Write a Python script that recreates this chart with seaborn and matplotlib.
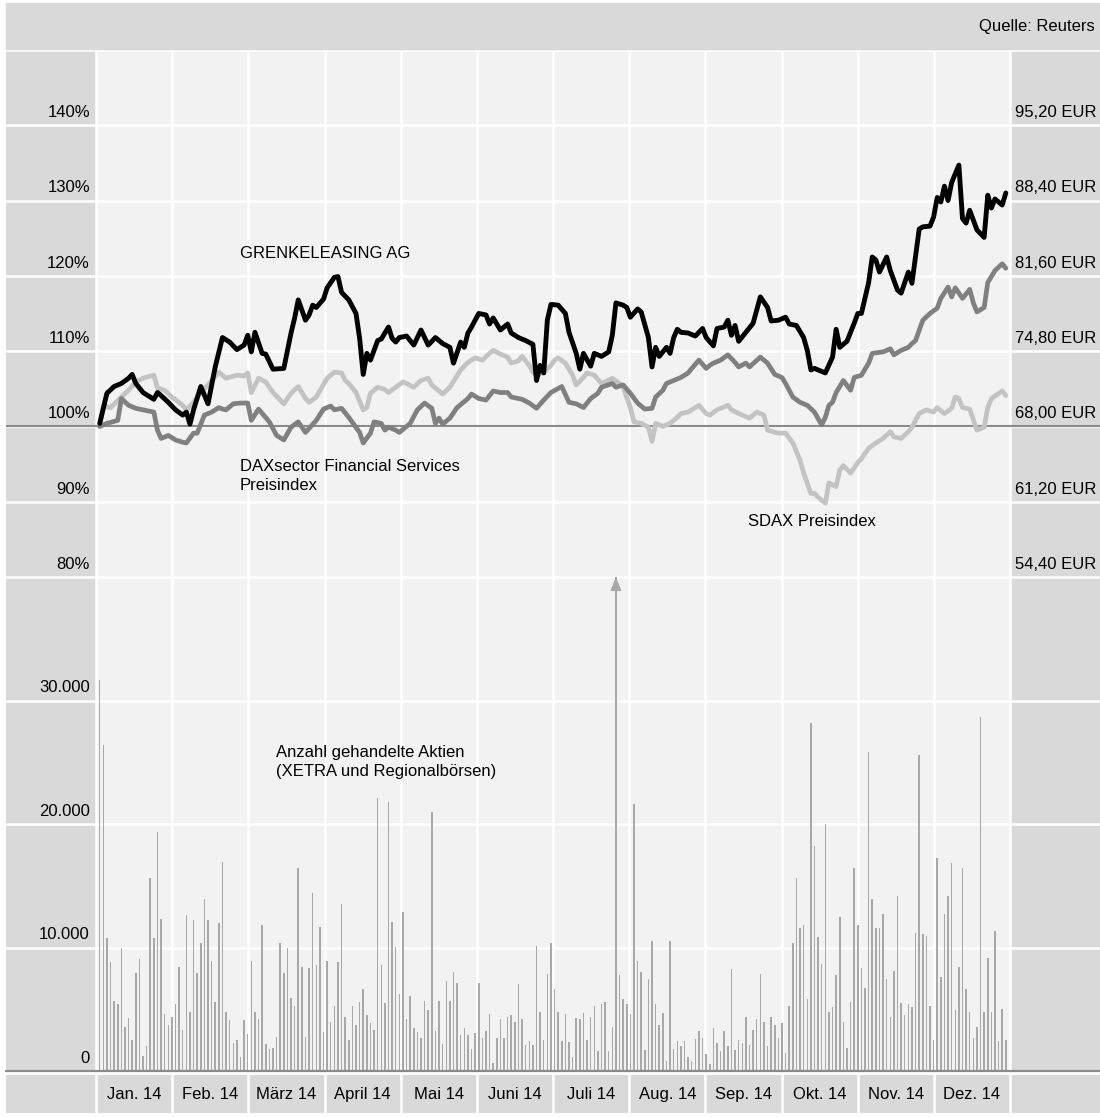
import numpy as np
import pandas as pd
import matplotlib
matplotlib.use("Agg")
import matplotlib.pyplot as plt
from matplotlib.patches import Rectangle
import seaborn as sns

sns.set_style("white")
plt.rcParams['font.family'] = ['Liberation Sans', 'DejaVu Sans']
plt.rcParams['font.size'] = 12
plt.rcParams['text.color'] = 'black'

# ---------------- data ----------------
months = ["Jan. 14", "Feb. 14", "März 14", "April 14", "Mai 14", "Juni 14",
          "Juli 14", "Aug. 14", "Sep. 14", "Okt. 14", "Nov. 14", "Dez. 14"]
pct_ticks = [80, 90, 100, 110, 120, 130, 140]
pct_labels = ["80%", "90%", "100%", "110%", "120%", "130%", "140%"]
eur_labels = ["54,40 EUR", "61,20 EUR", "68,00 EUR", "74,80 EUR",
              "81,60 EUR", "88,40 EUR", "95,20 EUR"]
vol_ticks = [0, 10000, 20000, 30000]
vol_labels = ["0", "10.000", "20.000", "30.000"]

vol_jan = [31700, 26400, 10760, 8800, 5700, 5400, 9950, 3600, 4300, 2500, 7950,
           9050, 1200, 2000, 15600, 10760, 19350, 12300, 4650, 3700, 4400]
vol_feb = [5400, 8400, 3300, 12600, 4750, 12200, 7950, 10360, 13950, 12200,
           8900, 5600, 11950, 16950, 4800, 4100, 2250, 2500, 1100, 4100]
vol_mar = [3000, 8900, 4800, 4200, 11800, 2200, 1800, 1850, 2750, 10360, 7950,
           9950, 5900, 5300, 16400, 8400, 2750, 8350, 14450, 8600, 11650]
vol_apr = [3150, 8900, 4000, 5250, 8800, 13500, 4400, 2550, 5300, 3750, 5600,
           6650, 4500, 3900, 3300, 22100, 8600, 5500, 21750, 12050, 10050, 6200]
vol_mai = [12900, 4250, 6100, 3500, 3150, 2700, 5700, 4900, 20950, 3200, 5700,
           2150, 7300, 5700, 8050, 7150, 2900, 3500, 2950, 1800, 3050]
vol_jun = [7150, 2650, 3200, 4650, 650, 2700, 4250, 2700, 4400, 4500, 4000,
           7050, 4250, 2100, 2400, 2100, 10100, 4800, 2550, 7850, 10400]
vol_jul = [6650, 4750, 2400, 4650, 2350, 1100, 4300, 4200, 4700, 2550, 4400,
           5300, 1600, 5400, 5600, 1600, 3600, 52000, 7800, 5850, 5400]
vol_aug = [4600, 21600, 8900, 8000, 1700, 7450, 10500, 5400, 3700, 4700, 800,
           10500, 1800, 2400, 2000, 2400, 1100, 850, 2600, 3200, 2700, 1400]
vol_sep = [550, 3500, 2300, 1600, 3200, 2000, 8250, 1700, 2500, 2300, 4400,
           2100, 3350, 4200, 7850, 4000, 2000, 4400, 3700, 2700, 3900]
vol_okt = [1450, 5250, 10350, 15600, 11550, 11800, 5850, 28200, 18250, 10850,
           8650, 20000, 4800, 5150, 7800, 12450, 4000, 1900, 5600, 16450, 11800]
vol_nov = [8350, 6750, 25800, 13900, 11550, 11550, 12750, 7450, 4350, 8100,
           14200, 5500, 4550, 5400, 5200, 11150, 25600, 11100, 10900, 5300, 2500]
vol_dez = [17250, 7650, 12750, 14150, 16850, 4900, 8400, 16450, 6600, 4800,
           2700, 3550, 28700, 4750, 9150, 4750, 11350, 2400, 5000, 2500]

grenke_day = [0, 2, 4, 6, 8, 9, 10, 12, 15, 16, 17, 19, 21, 23, 24, 25, 26, 28, 30, 32,
              34, 36, 38, 40, 41, 42, 43, 45, 46, 48, 51, 53, 54, 55, 57, 58, 59, 60, 62, 63,
              65, 66, 67, 69, 71, 72, 73, 74, 75, 77, 78, 80, 81, 82, 83, 85, 87, 89, 91, 93,
              95, 97, 98, 100, 101, 102, 103, 105, 107, 108, 109, 111, 113, 114, 116, 118, 120, 121, 122, 123,
              124, 125, 127, 129, 130, 132, 133, 134, 136, 137, 139, 141, 142, 143, 145, 146, 147, 149, 150, 152,
              153, 154, 155, 157, 158, 159, 160, 161, 163, 165, 167, 168, 170, 171, 173, 174, 175, 176, 177, 179,
              181, 183, 185, 186, 188, 190, 191, 193, 195, 196, 197, 198, 201, 203, 204, 205, 207, 209, 210, 211,
              213, 214, 215, 216, 218, 219, 221, 222, 224, 225, 227, 228, 230, 231, 232, 233, 234, 235, 236, 238,
              239, 240, 241, 243, 245, 246, 247, 248, 250, 251]
grenke_pct = [100.4, 104.4, 105.3, 105.7, 106.4, 106.9, 105.7, 104.5, 103.6, 104.5, 104.1, 103.2, 102.2, 101.5, 101.9, 100.3, 102.2, 105.3, 103.0, 107.9,
              111.8, 111.2, 110.2, 110.8, 112.1, 109.9, 112.5, 109.7, 109.6, 107.6, 107.7, 112.4, 114.4, 116.8, 114.1, 114.8, 116.1, 115.8, 116.9, 118.4,
              119.8, 119.9, 117.8, 116.8, 115.0, 111.7, 106.9, 109.7, 108.8, 111.4, 111.6, 113.2, 111.7, 111.2, 111.8, 112.0, 110.8, 112.8, 110.8, 111.8,
              111.0, 110.5, 108.4, 111.2, 110.5, 112.4, 113.2, 115.0, 114.8, 113.6, 114.4, 112.8, 113.6, 112.4, 111.8, 111.4, 110.9, 106.1, 108.1, 107.1,
              114.1, 116.2, 116.1, 115.0, 112.5, 109.7, 107.6, 109.7, 108.0, 109.7, 109.3, 109.9, 112.1, 116.4, 116.1, 115.8, 114.5, 115.6, 115.2, 111.8,
              107.9, 110.5, 109.3, 110.5, 109.7, 111.8, 112.9, 112.5, 112.4, 112.0, 113.0, 111.8, 110.7, 113.0, 113.2, 114.1, 112.1, 113.4, 111.3, 112.5,
              113.7, 117.2, 115.8, 114.0, 114.1, 114.5, 113.6, 113.4, 111.8, 110.1, 107.5, 107.7, 107.1, 109.2, 112.9, 110.5, 111.3, 113.7, 115.0, 115.0,
              119.1, 122.5, 122.1, 120.5, 122.5, 120.7, 118.1, 117.7, 120.5, 119.0, 126.2, 126.5, 126.6, 127.8, 130.4, 129.8, 131.9, 130.0, 132.4, 134.7,
              127.6, 127.0, 128.7, 126.1, 125.1, 130.7, 129.0, 130.2, 129.4, 131.0]

dax_day = [0, 2, 5, 6, 8, 10, 12, 15, 16, 17, 19, 21, 23, 24, 26, 27, 29, 31, 33, 34,
           35, 37, 39, 41, 42, 44, 47, 49, 51, 53, 55, 57, 60, 62, 64, 65, 67, 69, 72, 73,
           75, 76, 78, 79, 80, 82, 83, 86, 88, 90, 92, 93, 94, 95, 97, 99, 102, 103, 105, 107,
           109, 111, 113, 114, 117, 119, 121, 123, 125, 128, 130, 132, 134, 136, 138, 139, 142, 143, 145, 147,
           149, 151, 153, 154, 156, 157, 159, 161, 163, 164, 166, 168, 169, 170, 172, 174, 176, 177, 179, 180,
           183, 185, 187, 189, 190, 192, 194, 196, 198, 200, 201, 202, 203, 204, 206, 208, 209, 211, 213, 214,
           217, 219, 220, 222, 224, 225, 226, 228, 230, 232, 233, 235, 236, 237, 239, 241, 242, 243, 245, 246,
           248, 250, 251]
dax_pct = [100.0, 100.4, 100.8, 103.7, 102.8, 102.4, 102.2, 101.9, 99.5, 98.4, 98.8, 98.2, 97.9, 97.8, 99.1, 99.1, 101.5, 101.9, 102.5, 102.3,
           102.2, 103.0, 103.1, 103.1, 100.8, 102.3, 100.6, 98.8, 98.2, 99.9, 100.6, 99.2, 100.8, 102.3, 102.7, 102.2, 102.4, 101.2, 99.2, 97.8,
           99.1, 100.6, 100.4, 99.5, 99.9, 99.5, 99.2, 100.4, 102.2, 103.1, 102.4, 100.4, 101.1, 100.3, 101.1, 102.5, 103.7, 104.3, 103.7, 103.5,
           104.7, 104.5, 104.5, 103.9, 103.6, 103.1, 102.4, 103.5, 104.5, 105.3, 103.2, 103.0, 102.5, 103.7, 104.4, 105.2, 105.7, 105.2, 105.5, 104.4,
           103.1, 102.3, 102.4, 103.9, 104.8, 105.7, 106.1, 106.5, 107.1, 107.7, 108.8, 107.7, 108.1, 108.4, 108.8, 109.5, 108.5, 107.9, 108.4, 107.9,
           109.2, 108.4, 106.9, 106.5, 105.7, 103.9, 103.2, 102.8, 101.9, 100.2, 101.2, 102.8, 103.2, 104.5, 106.1, 104.8, 106.5, 106.8, 108.4, 109.7,
           109.9, 110.3, 109.5, 110.1, 110.5, 111.0, 111.4, 114.1, 115.0, 115.7, 117.0, 118.5, 117.2, 118.4, 117.0, 118.2, 116.4, 115.2, 115.8, 119.1,
           120.7, 121.6, 121.0]

sdax_day = [0, 1, 3, 6, 8, 10, 12, 15, 16, 18, 20, 23, 24, 26, 28, 30, 33, 35, 38, 40,
            41, 42, 44, 46, 48, 50, 51, 53, 55, 57, 58, 60, 63, 65, 67, 68, 69, 71, 73, 74,
            75, 77, 79, 80, 82, 84, 85, 87, 89, 91, 92, 95, 97, 100, 102, 104, 106, 108, 109, 111,
            113, 114, 116, 117, 119, 120, 121, 123, 125, 126, 127, 129, 131, 132, 134, 135, 137, 139, 140, 142,
            144, 145, 147, 148, 150, 152, 153, 154, 156, 158, 160, 161, 163, 164, 166, 168, 169, 171, 174, 175,
            178, 180, 182, 184, 185, 188, 190, 192, 194, 195, 197, 198, 199, 201, 202, 204, 205, 206, 208, 210,
            211, 213, 215, 217, 219, 220, 222, 224, 225, 227, 229, 231, 232, 234, 236, 237, 238, 239, 241, 243,
            245, 246, 247, 250, 251]
sdax_pct = [100.0, 102.7, 102.5, 103.9, 104.8, 105.9, 106.4, 106.8, 105.1, 104.8, 103.9, 102.8, 102.2, 103.2, 104.5, 105.5, 107.2, 106.4, 106.8, 106.7,
            107.1, 104.5, 106.4, 105.9, 104.5, 103.5, 103.0, 104.4, 105.3, 103.7, 103.2, 103.9, 106.4, 107.2, 107.1, 106.1, 105.7, 104.5, 102.2, 102.5,
            104.4, 105.2, 104.9, 104.5, 105.2, 105.9, 105.7, 105.2, 106.1, 106.4, 105.5, 104.3, 105.2, 107.5, 108.5, 109.1, 108.8, 109.7, 110.1, 109.6,
            109.2, 108.4, 108.7, 109.3, 108.1, 107.2, 106.8, 107.2, 108.1, 108.8, 109.1, 108.4, 106.8, 105.5, 106.5, 107.1, 106.8, 105.7, 105.9, 106.4,
            105.7, 105.2, 102.5, 100.6, 100.4, 99.9, 98.0, 100.4, 100.0, 100.4, 101.2, 101.7, 101.9, 102.2, 102.8, 101.7, 101.5, 102.2, 102.8, 102.2,
            101.5, 101.1, 101.9, 101.5, 99.5, 99.1, 99.1, 97.8, 95.5, 93.8, 91.1, 91.1, 90.6, 89.8, 92.5, 92.0, 94.2, 94.8, 93.8, 95.2,
            95.7, 97.1, 97.8, 98.4, 99.3, 98.6, 98.4, 99.3, 99.9, 101.7, 102.2, 101.9, 102.5, 101.7, 102.4, 103.9, 103.7, 102.5, 102.3, 99.5,
            99.9, 102.5, 103.7, 104.7, 104.1]

volume = (vol_jan + vol_feb + vol_mar + vol_apr + vol_mai + vol_jun +
          vol_jul + vol_aug + vol_sep + vol_okt + vol_nov + vol_dez)
vol_df = pd.DataFrame({"day": np.arange(len(volume)), "volume": volume})

# ---------------- layout ----------------
W, H = 1100, 1117
X0, DX = 99.7, 3.61              # pixel of day 0, pixels per trading day
def px2day(px):
    return (px - X0) / DX
XLIM = (px2day(6), px2day(1100))
bounds = [px2day(96 + 76.17 * k) for k in range(13)]
GRAY = "#d9d9d9"
PANEL = "#f2f2f2"
GRID_LW = 1.8

fig = plt.figure(figsize=(W / 100, H / 100), dpi=100, facecolor="white")

# top band
fig.patches.append(Rectangle((6 / W, 1 - 49.3 / H), 1094 / W, 46.3 / H,
                             transform=fig.transFigure, color=GRAY, zorder=0))
fig.text(1095 / W, 1 - 27 / H, "Quelle: Reuters", ha="right", va="center", fontsize=12)

# upper axes (percent)
PXP = 7.53   # pixels per percent
ax_up = fig.add_axes([6 / W, 1 - 577 / H, 1094 / W, (577 - 49.3) / H])
ax_up.set_ylim(80, 80 + (577 - 49.3) / PXP)
# lower axes (volume)
ax_lo = fig.add_axes([6 / W, 1 - 1071 / H, 1094 / W, (1071 - 577) / H])
ax_lo.set_ylim(0, 40000)
# bottom band (months)
ax_bt = fig.add_axes([6 / W, 1 - 1113 / H, 1094 / W, (1113 - 1075) / H])
ax_bt.set_ylim(0, 1)

for ax in (ax_up, ax_lo, ax_bt):
    ax.set_xlim(*XLIM)
    for s in ax.spines.values():
        s.set_visible(False)
    ax.set_axisbelow(True)

for ax in (ax_up, ax_lo):
    ax.set_facecolor(PANEL)
    ax.axvspan(XLIM[0], bounds[0], color=GRAY, zorder=0.2, lw=0)
    ax.axvspan(bounds[-1], XLIM[1], color=GRAY, zorder=0.2, lw=0)
    for b in bounds:
        ax.axvline(b, color="white", lw=GRID_LW, zorder=0.6)

ax_up.set_yticks(pct_ticks + [150])
ax_up.grid(axis="y", color="white", lw=GRID_LW)
ax_lo.set_yticks(vol_ticks + [40000])
ax_lo.grid(axis="y", color="white", lw=GRID_LW)

# baselines
ax_up.axhline(100, color="#8a8a8a", lw=1.5, zorder=1.5)
ax_lo.axhline(0, color="#8a8a8a", lw=1.6, zorder=3, clip_on=False)

# lines
sns.lineplot(x=sdax_day, y=sdax_pct, ax=ax_up, color="#c3c3c3", lw=3.4,
             errorbar=None, solid_joinstyle="round", zorder=2)
sns.lineplot(x=dax_day, y=dax_pct, ax=ax_up, color="#808080", lw=3.4,
             errorbar=None, solid_joinstyle="round", zorder=2.1)
sns.lineplot(x=grenke_day, y=grenke_pct, ax=ax_up, color="black", lw=3.5,
             errorbar=None, solid_joinstyle="round", zorder=2.2)

# volume bars
sns.barplot(data=vol_df, x="day", y="volume", ax=ax_lo, native_scale=True,
            width=0.42, color="#a8a8a8", saturation=1, errorbar=None,
            linewidth=0, zorder=2)
for d, v in zip(vol_df["day"], vol_df["volume"]):
    if v > 40000:
        ax_lo.annotate("", xy=(d, 40000), xytext=(d, 30000),
                       arrowprops=dict(arrowstyle="-|>,head_length=0.45,head_width=0.18",
                                       color="#a8a8a8", lw=1.1, mutation_scale=18,
                                       shrinkA=0, shrinkB=0), zorder=2.5)

# remove default tick labels
for ax in (ax_up, ax_lo, ax_bt):
    ax.set_xticks([])
    ax.tick_params(left=False, bottom=False, labelleft=False, labelbottom=False)
    ax.set_xlabel("")
    ax.set_ylabel("")
ax_lo.set_xlim(*XLIM)
ax_up.set_xlim(*XLIM)

# y labels
lx, rx = px2day(90), px2day(1096)
for v, lab, eur in zip(pct_ticks, pct_labels, eur_labels):
    ax_up.annotate(lab, xy=(lx, v), xytext=(0, 5.8), textcoords="offset points",
                   ha="right", va="baseline", fontsize=12)
    ax_up.annotate(eur, xy=(rx, v), xytext=(0, 5.8), textcoords="offset points",
                   ha="right", va="baseline", fontsize=12)
for v, lab in zip(vol_ticks, vol_labels):
    ax_lo.annotate(lab, xy=(lx, v), xytext=(0, 5.8), textcoords="offset points",
                   ha="right", va="baseline", fontsize=12)

# series labels
ax_up.text(px2day(240), 140 - (253 - 125) / PXP, "GRENKELEASING AG",
           ha="left", va="center", fontsize=12)
ax_up.text(px2day(240), 140 - (476 - 125) / PXP, "DAXsector Financial Services\nPreisindex",
           ha="left", va="center", fontsize=12, linespacing=1.3)
ax_up.text(px2day(748), 140 - (521 - 125) / PXP, "SDAX Preisindex",
           ha="left", va="center", fontsize=12)
ax_lo.text(px2day(276), (1071 - 762) / 12.35 * 1000,
           "Anzahl gehandelte Aktien\n(XETRA und Regionalbörsen)",
           ha="left", va="center", fontsize=12, linespacing=1.3)

# bottom month band
ax_bt.set_facecolor(GRAY)
for b in bounds:
    ax_bt.axvline(b, color="white", lw=GRID_LW)
for k, m in enumerate(months):
    ax_bt.text((bounds[k] + bounds[k + 1]) / 2, 0.36, m, ha="center", va="baseline", fontsize=12)

fig.savefig("out.png", dpi=100, facecolor="white")
